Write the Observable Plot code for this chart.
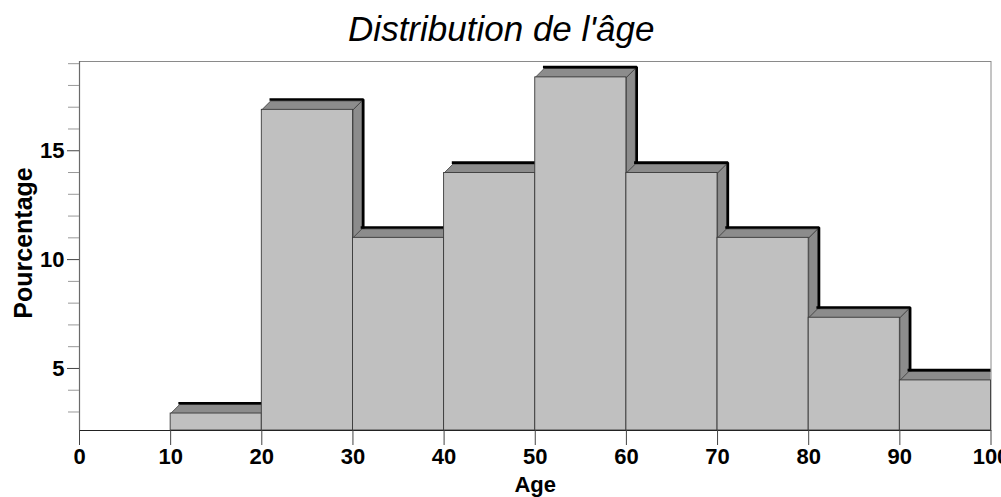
<!DOCTYPE html>
<html><head><meta charset="utf-8">
<script src="https://cdn.jsdelivr.net/npm/d3@7"></script>
<script src="https://cdn.jsdelivr.net/npm/@observablehq/plot@0.6"></script>
<style>body{margin:0;background:#fff;} #chart svg{display:block;}</style>
</head><body><div id="chart"></div>
<script>
const titleText = "Distribution de l'âge";
const xLabel = "Age";
const yLabel = "Pourcentage";
const binStart = [10, 20, 30, 40, 50, 60, 70, 80, 90];
const binEnd   = [20, 30, 40, 50, 60, 70, 80, 90, 100];
const percent  = [2.93, 16.88, 11.0, 13.98, 18.37, 13.98, 11.0, 7.33, 4.45];
const xTicks = [0, 10, 20, 30, 40, 50, 60, 70, 80, 90, 100];
const yTicks = [5, 10, 15];
const yMinorTicks = [3, 4, 6, 7, 8, 9, 11, 12, 13, 14, 16, 17, 18, 19];

const W = 1001, H = 497;
const mL = 79, mR = 10.5, mT = 61, mB = 67;
const xDomain = [0, 100];
const yDomain = [2.15, 19.1];
const FONT = "'Liberation Sans', Arial, sans-serif";

const bars = binStart.map((s, i) => ({x0: s, x1: binEnd[i], h: percent[i]}));

// pixel -> data unit conversion for the 3D depth offset
const kx = (xDomain[1] - xDomain[0]) / (W - mL - mR);
const ky = (yDomain[1] - yDomain[0]) / (H - mT - mB);
const DEPTH = 9;     // px
const EDGE = 1.3;    // px extra for black back edge
const du = DEPTH * kx, dv = DEPTH * ky;
const eu = EDGE * kx, ev = EDGE * ky;
const base = yDomain[0];

const poly = (pts, opts) => Plot.line(pts.concat([pts[0]]), {x: d => d[0], y: d => d[1], curve: "linear", ...opts});

const barMarks = bars.flatMap((b, i) => {
  const next = bars[i + 1];
  const side = [[b.x1, b.h], [b.x1 + du, b.h + dv], [b.x1 + du, base], [b.x1, base]];
  const top = [[b.x0, b.h], [b.x0 + du, b.h + dv], [b.x1 + du, b.h + dv], [b.x1, b.h]];
  const back = [[b.x0 + du, b.h + dv + ev], [b.x1 + du + eu, b.h + dv + ev]];
  if (next && next.h < b.h) back.push([b.x1 + du + eu, next.h + dv + ev]);
  return [
    poly(side, {fill: "#8c8c8c", stroke: "#3a3a3a", strokeWidth: 0.8, clip: true}),
    poly(top, {fill: "#8c8c8c", stroke: "#3a3a3a", strokeWidth: 0.8, clip: true}),
    Plot.line(back, {x: d => d[0], y: d => d[1], stroke: "#000", strokeWidth: 2.6, strokeLinejoin: "miter", strokeLinecap: "square", clip: true}),
    Plot.rect([b], {x1: "x0", x2: "x1", y1: base, y2: "h", fill: "#c0c0c0", stroke: "#3a3a3a", strokeWidth: 0.9})
  ];
});

const chart = Plot.plot({
  width: W, height: H,
  marginLeft: mL, marginRight: mR, marginTop: mT, marginBottom: mB,
  style: {fontFamily: FONT, fontSize: "22px", fontWeight: "bold", color: "#000", background: "#fff", overflow: "visible"},
  x: {domain: xDomain, label: null},
  y: {domain: yDomain, label: null},
  marks: [
    Plot.frame({stroke: "#8a8a8a"}),
    ...barMarks,
    Plot.ruleY([base], {stroke: "#222", strokeWidth: 1.2}),
    Plot.ruleX([0], {stroke: "#6a6a6a", strokeWidth: 1.2}),
    Plot.axisX({ticks: xTicks, tickSize: 15, tickPadding: 3, label: null, stroke: "#444", fill: "#000", fontSize: 22, fontWeight: "bold"}),
    Plot.axisY({ticks: yTicks, tickSize: 12, tickPadding: 3, label: null, stroke: "#444", fill: "#000", fontSize: 22, fontWeight: "bold"}),
    Plot.axisY({ticks: yMinorTicks, tickSize: 11, tickFormat: () => "", label: null, stroke: "#999"}),
    Plot.text([titleText], {frameAnchor: "top", dx: -34, dy: -32, lineAnchor: "middle", fontSize: 35, fontStyle: "italic", fontWeight: "normal", fill: "#000"}),
    Plot.text([xLabel], {frameAnchor: "bottom", dy: 54, lineAnchor: "middle", fontSize: 22, fontWeight: "bold", fill: "#000"}),
    Plot.text([yLabel], {frameAnchor: "left", textAnchor: "middle", dx: -56, dy: -3, rotate: -90, lineAnchor: "middle", fontSize: 25, fontWeight: "bold", fill: "#000"})
  ]
});
document.getElementById("chart").appendChild(chart);
</script>
</body></html>
